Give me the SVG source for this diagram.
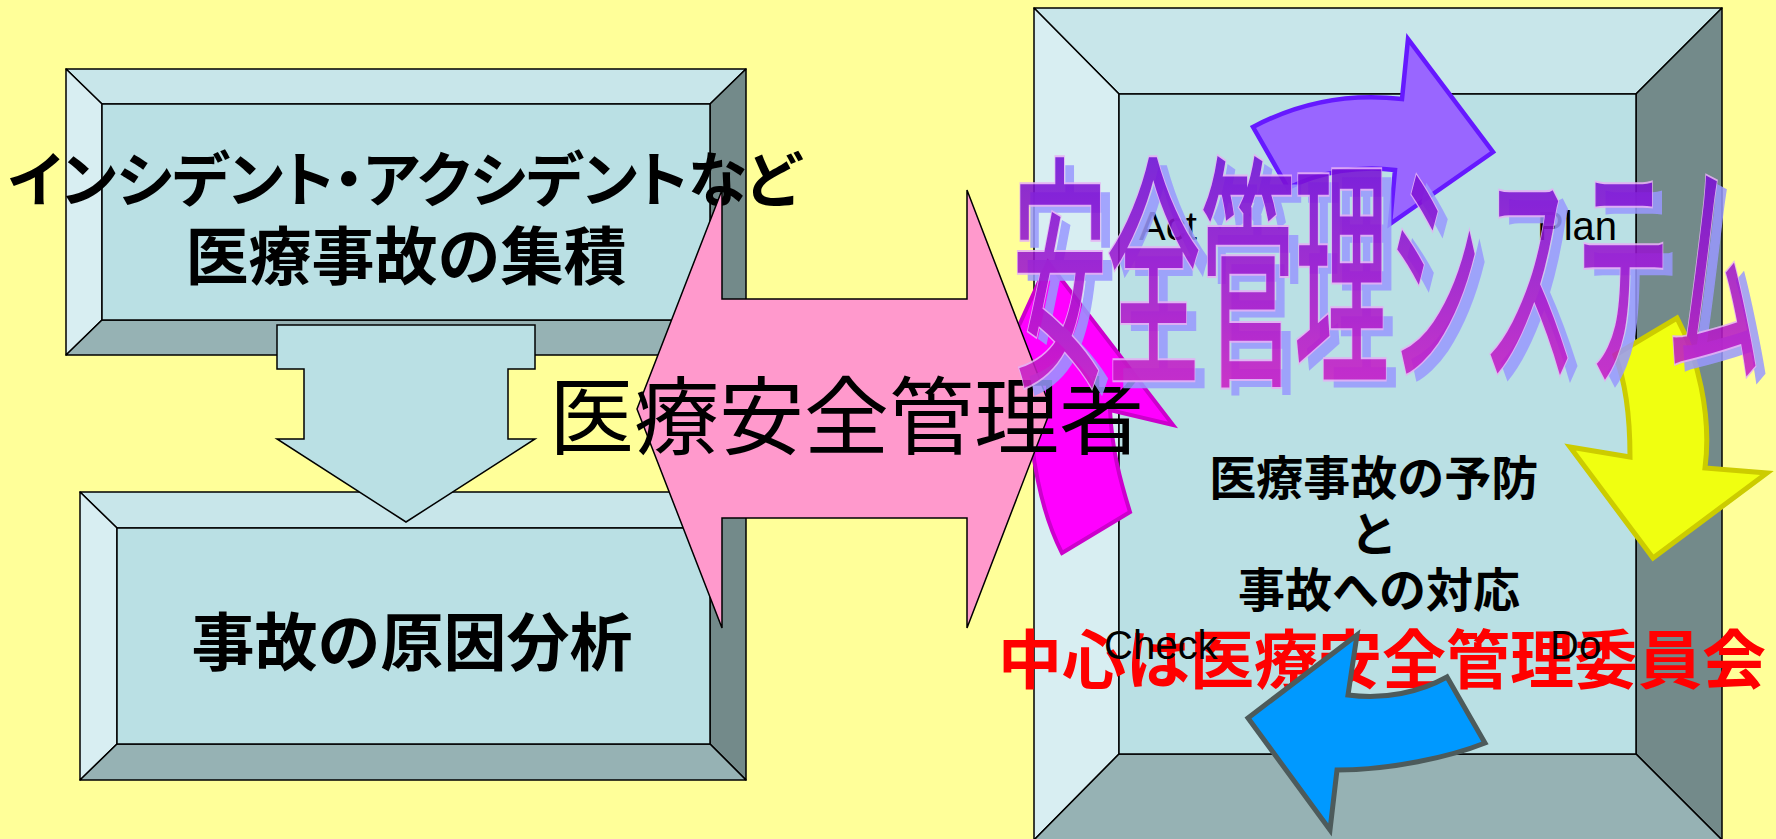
<svg xmlns="http://www.w3.org/2000/svg" width="1776" height="839" viewBox="0 0 1776 839">
<defs>
<style>
.bt{fill:#C8E6EA;stroke:#000;stroke-width:1.5;stroke-linejoin:round}
.bl{fill:#D8EEF2;stroke:#000;stroke-width:1.5;stroke-linejoin:round}
.br{fill:#738A8A;stroke:#000;stroke-width:1.5;stroke-linejoin:round}
.bb{fill:#96B2B4;stroke:#000;stroke-width:1.5;stroke-linejoin:round}
.bf{fill:#BAE0E4;stroke:#000;stroke-width:1.5}
.jp{font-family:"Noto Sans CJK JP","Noto Sans CJK SC",sans-serif}
.jb{font-family:"Noto Sans CJK JP","Noto Sans CJK SC",sans-serif;font-weight:bold}
.lat{font-family:"Liberation Sans",Arial,sans-serif;font-size:40px;fill:#000}
.art{vector-effect:non-scaling-stroke;stroke-linejoin:miter}
</style>
<linearGradient id="artGrad" x1="0" y1="0" x2="0" y2="1">
<stop offset="0.15" stop-color="#6A0FD9"/>
<stop offset="0.9" stop-color="#D11FC4"/>
</linearGradient>
</defs>
<rect x="0" y="0" width="1776" height="839" fill="#FFFF99"/>

<g id="box-incident">
<polygon class="bt" points="66,69 746,69 710,104 102,104"/>
<polygon class="bl" points="66,69 102,104 102,320 66,355"/>
<polygon class="br" points="746,69 746,355 710,320 710,104"/>
<polygon class="bb" points="66,355 102,320 710,320 746,355"/>
<rect class="bf" x="102" y="104" width="608" height="216"/>
<text class="jb" x="404" y="202" font-size="60" text-anchor="middle" textLength="792" lengthAdjust="spacing" style="font-feature-settings:'palt'">インシデント・アクシデントなど</text>
<text class="jb" x="406" y="279" font-size="63" text-anchor="middle">医療事故の集積</text>
</g>

<g id="box-analysis">
<polygon class="bt" points="80,492 746,492 710,528 117,528"/>
<polygon class="bl" points="80,492 117,528 117,744 80,780"/>
<polygon class="br" points="746,492 746,780 710,744 710,528"/>
<polygon class="bb" points="80,780 117,744 710,744 746,780"/>
<rect class="bf" x="117" y="528" width="593" height="216"/>
<text class="jb" x="412" y="665" font-size="63" text-anchor="middle">事故の原因分析</text>
</g>

<g id="connectors">
<polygon id="arrow-down" points="277,325 535,325 535,369 508,369 508,439 535,439 406,522 277,439 304,439 304,369 277,369" fill="#BAE0E4" stroke="#000" stroke-width="1.5" stroke-linejoin="miter"/>
</g>

<g id="box-system">
<polygon class="bt" points="1034,8 1722,8 1636,94 1119,94"/>
<polygon class="bl" points="1034,8 1119,94 1119,754 1034,840"/>
<polygon class="br" points="1722,8 1722,840 1636,754 1636,94"/>
<polygon class="bb" points="1034,840 1119,754 1636,754 1722,840"/>
<rect class="bf" x="1119" y="94" width="517" height="660"/>
<text class="jb" font-size="47" text-anchor="middle" fill="#000">
<tspan x="1379" y="495">医療事故の予防</tspan>
<tspan x="1379" y="551">と</tspan>
<tspan x="1379" y="607">事故への対応</tspan>
</text>
<text class="jb" x="1382" y="683" font-size="64" text-anchor="middle" fill="#FF0000">中心は医療安全管理委員会</text>
</g>

<g id="cycle">
<path id="arrow-act" d="M1062,553 L1130,512 C1120,480 1112,450 1110,410 L1173,425 L1048,262 L985,400 L1030,408 C1030,450 1040,510 1062,553 Z" fill="#FF00FF" stroke="#CC00CC" stroke-width="4" stroke-linejoin="miter"/>
<path id="arrow-plan" d="M1253,127 C1300,102 1350,93 1402,99 L1408,39 L1493,152 L1390,224 L1395,170 C1360,165 1320,172 1288,188 Z" fill="#9966FF" stroke="#6619FF" stroke-width="4.5" stroke-linejoin="miter"/>
<path id="arrow-do" d="M1615,355 L1677,318 C1697,355 1712,415 1705,468 L1767,473 L1653,558 L1570,447 L1630,457 C1630,420 1627,385 1615,355 Z" fill="#F0FF10" stroke="#CCCC00" stroke-width="5" stroke-linejoin="miter"/>
<path id="arrow-check" d="M1357,635 L1348,695 C1385,700 1420,692 1447,677 L1485,743 C1450,757 1390,770 1337,770 L1330,830 L1248,718 Z" fill="#0099FF" stroke="#4D5B5B" stroke-width="5" stroke-linejoin="miter"/>
<text class="lat" x="1139" y="240">Act</text>
<text class="lat" x="1537" y="240">Plan</text>
<text class="lat" x="1104" y="659">Check</text>
<text class="lat" x="1550" y="659">Do</text>
</g>

<g id="manager">
<polygon points="637,409 722,190 722,299 967,299 967,190 1051,409 967,628 967,518 722,518 722,628" fill="#FF99CC" stroke="#000" stroke-width="1.5" stroke-linejoin="miter"/>
<text class="jp" x="549" y="448" font-size="85" fill="#000">医療安全管理者</text>
</g>

<g id="title-art" class="jp" font-size="245">
<g opacity="0.85">
<text class="art" transform="translate(1023,374) scale(0.383,1)" fill="#9999FF" stroke="#9999FF" stroke-width="2.5">安全管理システム</text>
</g>
<g opacity="0.88">
<text class="art" transform="translate(1013,366) scale(0.383,1)" fill="#E6B0F5" stroke="#E6B0F5" stroke-width="5.5">安全管理システム</text>
<text class="art" transform="translate(1013,366) scale(0.383,1)" fill="url(#artGrad)" stroke="url(#artGrad)" stroke-width="2.5">安全管理システム</text>
</g>
</g>
</svg>
